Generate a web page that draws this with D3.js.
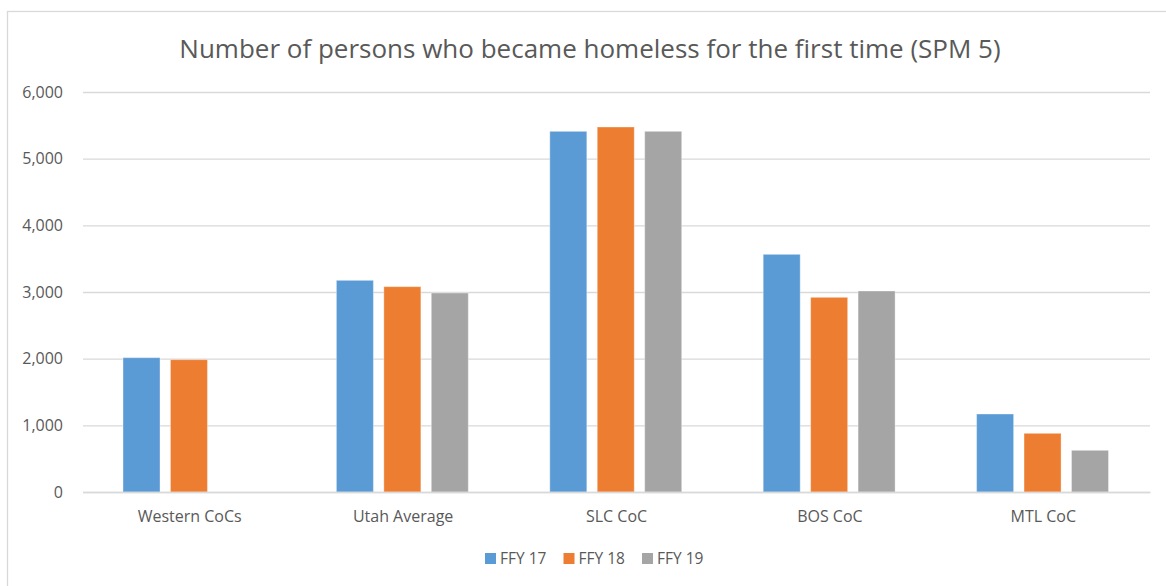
<!DOCTYPE html>
<html>
<head>
<meta charset="utf-8">
<script src="https://cdn.jsdelivr.net/npm/d3@7"></script>
<style>
  body { margin: 0; background: #fff; }
  svg { display: block; font-family: "Open Sans", "Noto Sans", sans-serif; }
</style>
</head>
<body>
<script>
var categories = ["Western CoCs", "Utah Average", "SLC CoC", "BOS CoC", "MTL CoC"];
var seriesNames = ["FFY 17", "FFY 18", "FFY 19"];
var ffy17 = [2015, 3175, 5410, 3565, 1170];
var ffy18 = [1985, 3080, 5475, 2920, 880];
var ffy19 = [null, 2985, 5410, 3015, 625];
var yTicks = [0, 1000, 2000, 3000, 4000, 5000, 6000];
var colors = ["#5b9bd5", "#ed7d31", "#a5a5a5"];

var width = 1166,
    height = 586;

var svg = d3.select("body").append("svg")
    .attr("width", width)
    .attr("height", height);

// chart frame (only top and left edges show in the picture)
svg.append("rect")
    .attr("x", 7.5)
    .attr("y", 11.5)
    .attr("width", 1200)
    .attr("height", 700)
    .attr("fill", "none")
    .attr("stroke", "#d9d9d9")
    .attr("stroke-width", 1.3);

svg.append("text")
    .attr("x", 590)
    .attr("y", 58)
    .attr("text-anchor", "middle")
    .attr("fill", "#595959")
    .attr("font-size", "26px")
    .text("Number of persons who became homeless for the first time (SPM 5)");

var plotLeft = 83, plotRight = 1150, plotTop = 92, plotBottom = 492;

var x = d3.scaleBand()
    .domain(categories)
    .range([plotLeft, plotRight])
    .paddingInner(0)
    .paddingOuter(0);

var x1 = d3.scaleBand()
    .domain(seriesNames)
    .range([40, x.bandwidth() - 41.5])
    .paddingInner(0.22);

var y = d3.scaleLinear()
    .domain([0, 6000])
    .range([plotBottom, plotTop]);

// gridlines + y labels
var yAxis = svg.append("g")
    .attr("transform", "translate(" + plotLeft + ",0)")
    .call(d3.axisLeft(y).tickValues(yTicks).tickSize(-(plotRight - plotLeft)).tickPadding(20)
      .tickFormat(d3.format(",")));
yAxis.select(".domain").remove();
yAxis.selectAll(".tick line").attr("stroke", "#d9d9d9").attr("stroke-width", 1.3);
yAxis.selectAll(".tick text")
    .attr("fill", "#595959")
    .attr("font-size", "16px")
    .attr("font-family", "'Open Sans', sans-serif");

var data = categories.map(function(c, i) {
  return { cat: c, vals: [ffy17[i], ffy18[i], ffy19[i]] };
});

var groups = svg.selectAll(".grp")
    .data(data)
    .enter().append("g")
    .attr("class", "grp")
    .attr("transform", function(d) { return "translate(" + x(d.cat) + ",0)"; });

groups.selectAll("rect")
    .data(function(d) {
      return d.vals.map(function(v, j) { return { name: seriesNames[j], v: v, j: j }; })
        .filter(function(e) { return e.v != null; });
    })
    .enter().append("rect")
    .attr("x", function(d) { return x1(d.name); })
    .attr("width", x1.bandwidth())
    .attr("y", function(d) { return y(d.v); })
    .attr("height", function(d) { return plotBottom - y(d.v); })
    .attr("fill", function(d) { return colors[d.j]; })
    .attr("stroke", "#fff")
    .attr("stroke-opacity", 0.35)
    .attr("stroke-width", 1);

// x axis baseline & labels
var xAxis = svg.append("g")
    .attr("transform", "translate(0," + plotBottom + ")")
    .call(d3.axisBottom(x).tickSize(0).tickPadding(19));
xAxis.select(".domain").attr("stroke", "#d9d9d9").attr("stroke-width", 1.3);
xAxis.selectAll(".tick text")
    .attr("fill", "#595959")
    .attr("font-size", "16px")
    .attr("font-family", "'Open Sans', sans-serif");

// legend
var legend = svg.append("g").attr("transform", "translate(485,553)");
var items = legend.selectAll("g")
    .data(seriesNames)
    .enter().append("g")
    .attr("transform", function(d, i) { return "translate(" + (i * 78.5) + ",0)"; });
items.append("rect")
    .attr("width", 11)
    .attr("height", 11)
    .attr("fill", function(d, i) { return colors[i]; });
items.append("text")
    .attr("x", 15)
    .attr("y", 11)
    .attr("fill", "#595959")
    .attr("font-size", "15.5px")
    .text(function(d) { return d; });
</script>
</body>
</html>
